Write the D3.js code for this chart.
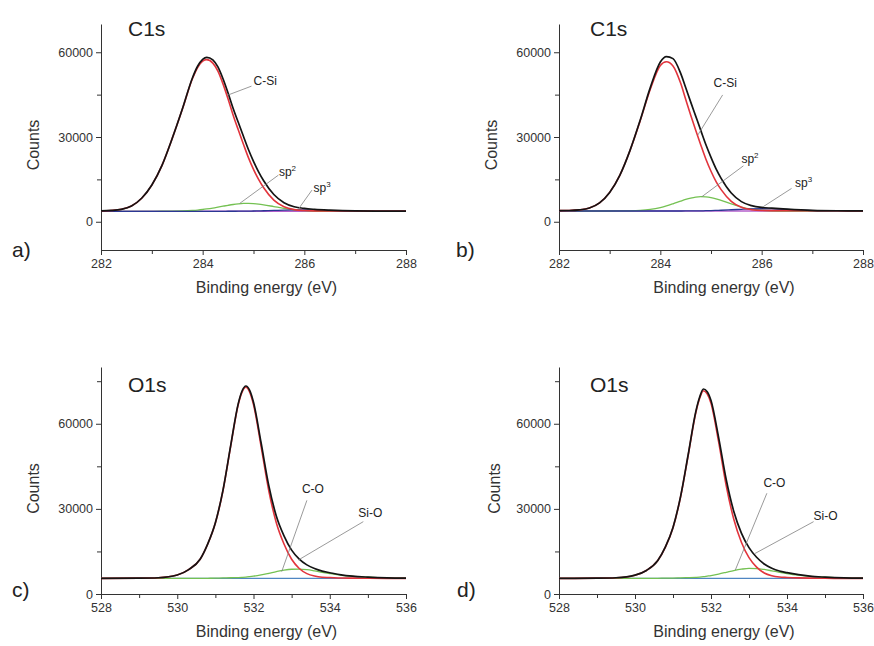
<!DOCTYPE html>
<html>
<head>
<meta charset="utf-8">
<script src="https://cdn.jsdelivr.net/npm/d3@7"></script>
<style>
  body { margin: 0; background: #fff; }
  svg { font-family: 'Liberation Sans', Arial, sans-serif; }
</style>
</head>
<body>
<div id="xps"></div>
<script>
// Axis ranges and ticks
const c1sEnergyDomain = [282, 288];
const c1sEnergyTicks = [282, 284, 286, 288];
const c1sEnergyMinor = [283, 285, 287];
const c1sCountDomain = [-10000, 70000];
const c1sCountMinor = [15000, 45000];
const o1sEnergyDomain = [528, 536];
const o1sEnergyTicks = [528, 530, 532, 534, 536];
const o1sEnergyMinor = [529, 531, 533, 535];
const o1sCountDomain = [0, 80000];
const o1sCountMinor = [15000, 45000, 75000];
const countTicks = [0, 30000, 60000];

const panelTags = ['a)', 'b)', 'c)', 'd)'];
const coreLevels = ['C1s', 'C1s', 'O1s', 'O1s'];

// a) C1s
const energyA = [282.0, 282.2, 282.4, 282.6, 282.8, 283.0, 283.2, 283.4, 283.6, 283.8, 283.9, 284.0, 284.08, 284.2, 284.3, 284.4, 284.5, 284.6, 284.7, 284.8, 284.9, 285.0, 285.1, 285.2, 285.4, 285.6, 285.8, 286.0, 286.2, 286.5, 287.0, 287.5, 288.0];
const envelopeA = [3860, 4000, 4400, 5580, 8320, 12990, 19980, 29460, 39910, 50990, 55050, 57490, 58220, 57310, 54790, 50615, 45570, 40120, 35200, 30355, 25580, 21390, 17670, 14510, 9640, 6760, 5330, 4710, 4380, 4090, 3830, 3770, 3750];
const cSiA = [3860, 4000, 4400, 5580, 8320, 12990, 19970, 29420, 39790, 50690, 54610, 56860, 57400, 56160, 53320, 48810, 43440, 37690, 32540, 27540, 22710, 18570, 14980, 12020, 7670, 5310, 4290, 3970, 3860, 3830, 3790, 3770, 3750];
const sp2A = [3700, 3700, 3700, 3700, 3700, 3700, 3710, 3740, 3820, 4000, 4140, 4330, 4520, 4850, 5170, 5500, 5820, 6110, 6330, 6470, 6500, 6420, 6250, 6000, 5370, 4730, 4250, 3950, 3800, 3720, 3700, 3700, 3700];
const sp3A = [3700, 3700, 3700, 3700, 3700, 3700, 3700, 3700, 3700, 3700, 3700, 3700, 3700, 3700, 3700, 3705, 3710, 3720, 3730, 3745, 3770, 3800, 3840, 3890, 4000, 4120, 4190, 4190, 4120, 3940, 3740, 3700, 3700];
const backgroundA = 3700;

// b) C1s
const energyB = [282.0, 282.2, 282.4, 282.6, 282.8, 283.0, 283.2, 283.4, 283.6, 283.8, 284.0, 284.12, 284.25, 284.4, 284.5, 284.6, 284.7, 284.8, 284.9, 285.0, 285.1, 285.2, 285.4, 285.6, 285.8, 286.0, 286.2, 286.5, 287.0, 287.5, 288.0];
const envelopeB = [3943, 3985, 4196, 4852, 6675, 10390, 16435, 25185, 35815, 47390, 56570, 58465, 57735, 52600, 47490, 42340, 37300, 32260, 27245, 22780, 18720, 15380, 10180, 7130, 5705, 5060, 4800, 4465, 4045, 3894, 3858];
const cSiB = [3943, 3985, 4196, 4852, 6675, 10390, 16415, 25115, 35595, 46820, 55330, 56650, 55170, 49090, 43380, 37730, 32330, 27120, 22140, 17890, 14210, 11360, 7235, 5105, 4275, 3985, 3953, 3927, 3895, 3874, 3858];
const sp2B = [3800, 3800, 3800, 3800, 3800, 3800, 3820, 3870, 4020, 4370, 5040, 5615, 6365, 7300, 7890, 8380, 8720, 8870, 8800, 8540, 8100, 7545, 6305, 5215, 4480, 4075, 3895, 3810, 3800, 3800, 3800];
const sp3B = [3800, 3800, 3800, 3800, 3800, 3800, 3800, 3800, 3800, 3800, 3800, 3800, 3800, 3810, 3820, 3830, 3850, 3870, 3905, 3950, 4010, 4075, 4240, 4410, 4550, 4600, 4550, 4330, 3950, 3820, 3800];
const backgroundB = 3800;

// c) and d) O1s
const energyO1s = [528, 529, 529.5, 530, 530.3, 530.6, 530.8, 531.0, 531.2, 531.4, 531.6, 531.7, 531.8, 531.9, 532.0, 532.2, 532.4, 532.6, 532.8, 533.0, 533.2, 533.4, 533.6, 533.8, 534.0, 534.3, 534.6, 535.0, 535.5, 536];
const envelopeC = [5500, 5580, 5735, 6700, 8600, 12245, 17660, 25130, 36630, 52190, 67090, 71540, 73308, 71780, 67578, 53211, 38274, 27409, 20510, 15457, 12300, 10269, 8960, 8054, 7503, 6735, 6280, 5940, 5660, 5560];
const mainC = [5500, 5580, 5735, 6700, 8600, 12235, 17620, 25030, 36480, 51970, 66790, 71170, 72850, 71170, 66790, 51970, 36480, 25030, 17620, 12235, 9000, 7184, 6310, 5904, 5803, 5635, 5580, 5540, 5510, 5500];
const cOC = [5500, 5500, 5500, 5500, 5500, 5510, 5540, 5600, 5650, 5720, 5800, 5870, 5958, 6110, 6288, 6741, 7294, 7879, 8390, 8722, 8800, 8585, 8150, 7650, 7200, 6600, 6200, 5900, 5650, 5560];
const backgroundC = 5500;
const envelopeD = [5500, 5580, 5730, 6630, 8300, 11840, 16595, 23470, 34410, 49160, 64270, 69320, 72250, 71320, 68200, 55210, 40350, 29085, 21480, 16330, 12955, 10574, 9100, 8114, 7522, 6806, 6286, 5940, 5660, 5560];
const mainD = [5500, 5580, 5730, 6630, 8290, 11800, 16515, 23350, 34230, 48890, 63890, 68860, 71650, 70520, 67200, 53670, 38210, 26330, 18240, 12800, 9480, 7424, 6430, 5964, 5812, 5666, 5586, 5540, 5510, 5500];
const cOD = [5500, 5500, 5500, 5500, 5510, 5540, 5580, 5620, 5680, 5770, 5880, 5960, 6100, 6300, 6500, 7040, 7640, 8255, 8740, 9030, 8975, 8650, 8170, 7650, 7210, 6640, 6200, 5900, 5650, 5560];
const backgroundD = 5500;

// Peak labels: text anchor and leader line, in eV / counts
const notesA = [
  {label: 'C-Si', sup: '', at: [285.0, 48400], from: [284.96, 48000], to: [284.49, 44800]},
  {label: 'sp', sup: '2', at: [285.5, 16200], from: [285.49, 16500], to: [284.73, 6500]},
  {label: 'sp', sup: '3', at: [286.18, 10700], from: [286.15, 11200], to: [285.88, 4400]}
];
const notesB = [
  {label: 'C-Si', sup: '', at: [285.05, 47700], from: [285.23, 44900], to: [284.74, 30700]},
  {label: 'sp', sup: '2', at: [285.6, 20800], from: [285.64, 19800], to: [284.82, 8870]},
  {label: 'sp', sup: '3', at: [286.66, 12400], from: [286.59, 11800], to: [286.03, 5330]}
];
const notesC = [
  {label: 'C-O', sup: '', at: [533.27, 35500], from: [533.4, 33000], to: [532.74, 7900]},
  {label: 'Si-O', sup: '', at: [534.75, 27250], from: [534.88, 25500], to: [533.18, 12000]}
];
const notesD = [
  {label: 'C-O', sup: '', at: [533.38, 37800], from: [533.47, 35500], to: [532.64, 8460]},
  {label: 'Si-O', sup: '', at: [534.7, 26100], from: [534.7, 25500], to: [533.16, 14300]}
];

(function() {
  // Colours of the fit
  const envelopeColor = '#141414';
  const mainColor = '#e2343c';
  const greenColor = '#74c152';
  const blueColor = '#2b3794';
  const c1sBackColor = '#b35fcb';
  const o1sBackColor = '#4f86c2';

  // Panel frames, in page pixels
  const frames = [
    {left: 101, right: 406, top: 24, bottom: 250, tag: [12, 257], title: [128, 36], ylab: 39},
    {left: 559, right: 863, top: 24, bottom: 250, tag: [456, 257], title: [590, 36], ylab: 497},
    {left: 101, right: 406, top: 367, bottom: 594, tag: [12, 597], title: [128, 392], ylab: 39},
    {left: 559, right: 863, top: 367, bottom: 594, tag: [457, 597], title: [590, 392], ylab: 500}
  ];

  const c1s = {xDomain: c1sEnergyDomain, xTicks: c1sEnergyTicks, xMinor: c1sEnergyMinor,
    yDomain: c1sCountDomain, yMinor: c1sCountMinor, backColor: c1sBackColor};
  const o1s = {xDomain: o1sEnergyDomain, xTicks: o1sEnergyTicks, xMinor: o1sEnergyMinor,
    yDomain: o1sCountDomain, yMinor: o1sCountMinor, backColor: o1sBackColor};

  // Curves are listed in drawing order, envelope last.
  const panels = [
    Object.assign({energy: energyA, background: backgroundA, notes: notesA, curves: [
      [sp2A, greenColor, 1.3], [sp3A, blueColor, 1.3], [cSiA, mainColor, 1.6], [envelopeA, envelopeColor, 1.7]
    ]}, c1s),
    Object.assign({energy: energyB, background: backgroundB, notes: notesB, curves: [
      [sp2B, greenColor, 1.3], [sp3B, blueColor, 1.3], [cSiB, mainColor, 1.6], [envelopeB, envelopeColor, 1.7]
    ]}, c1s),
    Object.assign({energy: energyO1s, background: backgroundC, notes: notesC, curves: [
      [cOC, greenColor, 1.3], [mainC, mainColor, 1.6], [envelopeC, envelopeColor, 1.7]
    ]}, o1s),
    Object.assign({energy: energyO1s, background: backgroundD, notes: notesD, curves: [
      [cOD, greenColor, 1.3], [mainD, mainColor, 1.6], [envelopeD, envelopeColor, 1.7]
    ]}, o1s)
  ];

  // Add SVG element.
  const svg = d3.select('#xps')
    .append('svg')
    .attr('width', 874)
    .attr('height', 646);

  const styleAxis = axisGroup => {
    axisGroup.selectAll('path, line').attr('stroke', '#333').attr('stroke-width', 1);
    axisGroup.selectAll('text')
      .attr('fill', '#333')
      .style('font-size', '12.5px')
      .style('font-family', "'Liberation Sans', Arial, sans-serif");
  };

  panels.forEach((p, i) => {
    const f = frames[i];
    const x = d3.scaleLinear().domain(p.xDomain).range([f.left, f.right]);
    const y = d3.scaleLinear().domain(p.yDomain).range([f.bottom, f.top]);
    const g = svg.append('g').classed('panel', true);

    // Minor ticks first, no labels.
    g.append('g')
      .attr('transform', `translate(0,${f.bottom})`)
      .call(d3.axisBottom(x).tickValues(p.xMinor).tickSize(4).tickFormat(''))
      .call(a => a.select('.domain').remove())
      .call(styleAxis);
    g.append('g')
      .attr('transform', `translate(${f.left},0)`)
      .call(d3.axisLeft(y).tickValues(p.yMinor).tickSize(4).tickFormat(''))
      .call(a => a.select('.domain').remove())
      .call(styleAxis);

    // Main axes
    g.append('g')
      .attr('transform', `translate(0,${f.bottom})`)
      .call(d3.axisBottom(x).tickValues(p.xTicks).tickSize(5).tickSizeOuter(0)
        .tickPadding(4).tickFormat(d3.format('d')))
      .call(styleAxis);
    g.append('g')
      .attr('transform', `translate(${f.left},0)`)
      .call(d3.axisLeft(y).tickValues(countTicks).tickSize(5).tickSizeOuter(0)
        .tickPadding(3).tickFormat(d3.format('d')))
      .call(styleAxis);

    // Axis titles
    g.append('text')
      .text('Binding energy (eV)')
      .attr('x', (f.left + f.right) / 2 + 13)
      .attr('y', f.bottom + 43)
      .attr('text-anchor', 'middle')
      .attr('fill', '#333')
      .style('font-size', '16px');
    g.append('text')
      .text('Counts')
      .attr('transform', `translate(${f.ylab},${(f.top + f.bottom) / 2 + 8}) rotate(-90)`)
      .attr('text-anchor', 'middle')
      .attr('fill', '#333')
      .style('font-size', '16px');

    // Core level and panel letter
    g.append('text')
      .text(coreLevels[i])
      .attr('x', f.title[0])
      .attr('y', f.title[1])
      .attr('fill', '#222')
      .style('font-size', '21px');
    g.append('text')
      .text(panelTags[i])
      .attr('x', f.tag[0])
      .attr('y', f.tag[1])
      .attr('fill', '#222')
      .style('font-size', '21px');

    // Fit background
    g.append('line')
      .attr('x1', x(p.xDomain[0]))
      .attr('x2', x(p.xDomain[1]))
      .attr('y1', y(p.background))
      .attr('y2', y(p.background))
      .attr('stroke', p.backColor)
      .attr('stroke-width', 1.4);

    // Components and envelope
    const line = d3.line()
      .x(d => x(d[0]))
      .y(d => y(d[1]))
      .curve(d3.curveMonotoneX);
    p.curves.forEach(c => {
      g.append('path')
        .datum(d3.zip(p.energy, c[0]))
        .attr('d', line)
        .attr('fill', 'none')
        .attr('stroke', c[1])
        .attr('stroke-width', c[2])
        .attr('stroke-linejoin', 'round');
    });

    // Peak labels with leader lines
    p.notes.forEach(n => {
      g.append('line')
        .attr('x1', x(n.from[0]))
        .attr('y1', y(n.from[1]))
        .attr('x2', x(n.to[0]))
        .attr('y2', y(n.to[1]))
        .attr('stroke', '#808080')
        .attr('stroke-width', 0.8);
      const t = g.append('text')
        .attr('x', x(n.at[0]))
        .attr('y', y(n.at[1]))
        .attr('fill', '#222')
        .style('font-size', '12px');
      t.append('tspan').text(n.label);
      if (n.sup) {
        t.append('tspan')
          .attr('dy', -5)
          .style('font-size', '8px')
          .text(n.sup);
      }
    });
  });
})();
</script>
</body>
</html>
